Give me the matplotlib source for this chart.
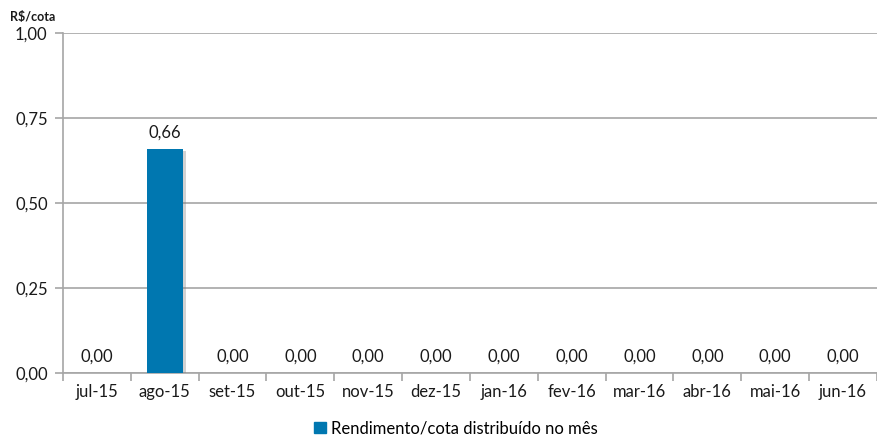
import matplotlib
matplotlib.use("Agg")
import matplotlib.pyplot as plt
import matplotlib.patheffects as pe
from matplotlib.patches import Patch

months = ["jul-15", "ago-15", "set-15", "out-15", "nov-15", "dez-15",
          "jan-16", "fev-16", "mar-16", "abr-16", "mai-16", "jun-16"]
values = [0.00, 0.66, 0.00, 0.00, 0.00, 0.00, 0.00, 0.00, 0.00, 0.00, 0.00, 0.00]
yticks = [0.00, 0.25, 0.50, 0.75, 1.00]
series_name = "Rendimento/cota distribuído no mês"
unit_label = "R$/cota"

plt.rcParams["font.family"] = ["Lato", "DejaVu Sans"]

bar_color = "#0077B0"
grid_color = "#A6A6A6"
text_color = "#1A1A1A"
fs = 12

fig = plt.figure(figsize=(8.77, 4.37), dpi=100)
ax = fig.add_axes([0.0718, 0.1465, 0.9282, 0.778])

x = list(range(len(months)))
bars = ax.bar(x, values, width=0.53, color=bar_color, zorder=3)
for b in bars:
    b.set_path_effects([pe.SimplePatchShadow(offset=(2.5, -1.5), shadow_rgbFace="#808080", alpha=0.35),
                        pe.Normal()])

for xi, v in zip(x, values):
    ax.annotate(f"{v:.2f}".replace(".", ","), (xi, v), xytext=(0, 6),
                textcoords="offset points", ha="center", va="bottom",
                fontsize=fs, color=text_color)

ax.set_xlim(-0.5, len(months) - 0.5)
ax.set_ylim(0, 1.0)
ax.set_yticks(yticks)
ax.set_yticklabels([f"{t:.2f}".replace(".", ",") for t in yticks], fontsize=fs, color=text_color)
ax.yaxis.grid(True, color=grid_color, linewidth=1.2, zorder=0)
ax.set_axisbelow(True)

ax.set_xticks(x)
ax.set_xticklabels(months, fontsize=fs, color=text_color)
ax.tick_params(axis="x", which="major", length=0, pad=8)
ax.set_xticks([i - 0.5 for i in range(1, len(months))] + [-0.5, len(months) - 0.5], minor=True)
ax.tick_params(axis="x", which="minor", length=6, color=grid_color, width=1.2)
ax.tick_params(axis="y", length=6, color=grid_color, width=1.2, pad=5)

for side in ["top", "right"]:
    ax.spines[side].set_visible(False)
for side in ["left", "bottom"]:
    ax.spines[side].set_color(grid_color)
    ax.spines[side].set_linewidth(1.2)

fig.text(0.011, 0.962, unit_label, fontsize=9, fontweight="bold", color=text_color,
         ha="left", va="center")

fig.legend(handles=[Patch(color=bar_color, label=series_name)], loc="center",
           bbox_to_anchor=(0.52, 0.02), frameon=False, fontsize=fs,
           handlelength=0.7, handleheight=0.7, handletextpad=0.3)

fig.savefig("out.png", dpi=100)
